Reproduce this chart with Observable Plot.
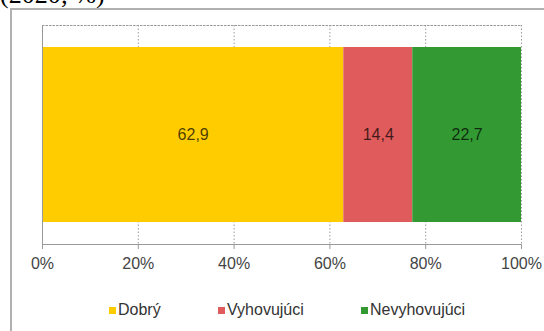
<!DOCTYPE html>
<html>
<head>
<meta charset="utf-8">
<script src="https://cdn.jsdelivr.net/npm/d3@7"></script>
<script src="https://cdn.jsdelivr.net/npm/@observablehq/plot@0.6"></script>
<style>
  html, body { margin: 0; padding: 0; background: #fff; width: 544px; height: 331px; overflow: hidden; }
  #wrap { position: relative; width: 544px; height: 331px; }
  #title { position: absolute; left: 0; top: -18px; font: 26px/26px "Liberation Serif", "Times New Roman", serif; color: #000; white-space: nowrap; }
  #box { position: absolute; left: 10px; top: 8px; width: 540px; height: 340px; border-left: 2px solid #b0b0b0; border-top: 2px solid #b0b0b0; box-sizing: border-box; }
  #chart { position: absolute; left: 0; top: 0; }
  #legend { position: absolute; top: 300px; left: 0; width: 544px; height: 20px; font: 16px "Liberation Sans", Arial, sans-serif; color: #333; }
  .item { position: absolute; top: 0; display: flex; align-items: center; height: 20px; }
  .sw { width: 7px; height: 7px; margin-right: 2px; }
</style>
</head>
<body>
<div id="wrap">
  <div id="title">(2020; %)</div>
  <div id="box"></div>
  <div id="chart"></div>
  <div id="legend"></div>
</div>
<script>
const categories = ["Dobrý", "Vyhovujúci", "Nevyhovujúci"];
const values = [62.9, 14.4, 22.7];
const colors = ["#FFCC00", "#E05C5C", "#339933"];
const xTicks = [0, 20, 40, 60, 80, 100];
const year = "2020";

const data = categories.map((c, i) => ({cat: c, value: values[i], year}));
const fmt = v => v.toFixed(1).replace(".", ",");

const plot = Plot.plot({
  width: 544,
  height: 290,
  marginLeft: 42,
  marginRight: 23,
  marginTop: 25,
  marginBottom: 46,
  style: {fontFamily: "'Liberation Sans', Arial, sans-serif", background: "transparent"},
  x: {domain: [0, 100], ticks: xTicks, tickFormat: d => d + "%"},
  y: {domain: [year], padding: 0, axis: null},
  color: {domain: categories, range: colors},
  marks: [
    Plot.ruleX(xTicks, {stroke: "#999", strokeDasharray: "1.5,2", strokeWidth: 1}),
    Plot.frame({anchor: "top", stroke: "#999", strokeDasharray: "1.5,2"}),
    Plot.barX(data, Plot.stackX({x: "value", y: "year", fill: "cat", insetTop: 22, insetBottom: 22})),
    Plot.text(data, Plot.stackX({x: "value", y: "year", text: d => fmt(d.value), fontSize: 16, fill: "#000", fillOpacity: 0.72})),
    Plot.frame({anchor: "left", stroke: "#999"}),
    Plot.frame({anchor: "bottom", stroke: "#999"}),
    Plot.axisX({ticks: xTicks, tickFormat: d => d + "%", tickSize: 5, tickPadding: 8, fontSize: 16, stroke: "#999", color: "#444", label: null})
  ]
});
plot.querySelectorAll("g[aria-label='x-axis tick label']").forEach(el => el.setAttribute("fill", "#444"));
document.getElementById("chart").appendChild(plot);

const legendX = [109, 218, 361];
const legend = document.getElementById("legend");
categories.forEach((c, i) => {
  const it = document.createElement("div");
  it.className = "item";
  it.style.left = legendX[i] + "px";
  const sw = document.createElement("span");
  sw.className = "sw";
  sw.style.background = colors[i];
  const t = document.createElement("span");
  t.textContent = c;
  it.appendChild(sw); it.appendChild(t);
  legend.appendChild(it);
});
</script>
</body>
</html>
